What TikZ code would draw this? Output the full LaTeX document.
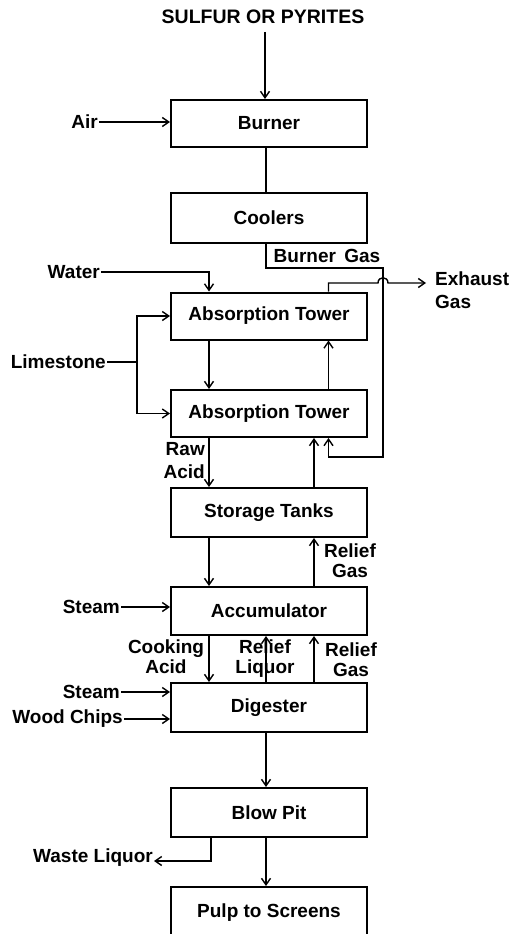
\documentclass[tikz,border=0pt]{standalone}
\usepackage{fontspec}
\setmainfont{Liberation Sans}
\usetikzlibrary{arrows.meta}
\newcommand\lblfont{\fontsize{19}{20}\selectfont\bfseries}
\newcommand\lblfontwide{\fontsize{19}{23}\selectfont\bfseries}
\newcommand\ttlfont{\fontsize{19.5}{22}\selectfont\bfseries}
\begin{document}
\begin{tikzpicture}[x=1pt,y=-1pt,
  box/.style={draw,line width=2pt,minimum width=196pt,minimum height=47pt,inner sep=0pt,font=\lblfont},
  lbl/.style={font=\lblfont,inner sep=1pt},
  conn/.style={line width=1.4pt},
  arr/.style={conn,-{Straight Barb[length=6.5pt,width=9pt]}}]
\useasboundingbox (0,0) rectangle (510,934);
% boxes
\node[box] (burner) at (269,123.5) {Burner};
\node[box,minimum height=50pt] (coolers) at (269,218) {Coolers};
\node[box] (at1) at (269,316) {Absorption Tower};
\node[box] (at2) at (269,413.5) {Absorption Tower};
\node[box,minimum height=49pt] (storage) at (269,512.5) {Storage Tanks};
\node[box,minimum height=48pt] (acc) at (269,611) {Accumulator};
\node[box,minimum height=49pt] (dig) at (269,707.5) {Digester};
\node[box,minimum height=49pt] (blow) at (269,812.5) {Blow Pit};
\node[box,minimum height=52pt] (pulp) at (269,913) {Pulp to Screens};
% helper coordinates
\coordinate (xL) at (209,0);
\coordinate (xM) at (266,0);
\coordinate (xR1) at (314,0);
\coordinate (xR2) at (328.5,0);
% labels
\node[lbl,font=\ttlfont] (sulfur) at (263,17) {SULFUR OR PYRITES};
\node[lbl,anchor=east] (air) at (99,122) {Air};
\node[lbl,anchor=east] (water) at (101,272) {Water};
\node[lbl,anchor=east] (lime) at (107,362) {Limestone};
\node[lbl] (bgl) at (327,256) {Burner\ \,Gas};
\node[lbl,font=\lblfontwide,align=left,anchor=west] (exh) at (434,290) {Exhaust\\Gas};
\node[lbl,font=\lblfontwide,align=right,anchor=east] (raw) at (206,461) {Raw\\Acid};
\node[lbl,align=center] (rg1) at (350,561) {Relief\\Gas};
\node[lbl,anchor=east] (steam1) at (121,607) {Steam};
\node[lbl,align=center] (cook) at (166,657) {Cooking\\Acid};
\node[lbl,align=center] (rliq) at (265,659) {Relief\\Liquor};
\node[lbl,align=center] (rg2) at (351,660) {Relief\\Gas};
\node[lbl,anchor=east] (steam2) at (121,692) {Steam};
\node[lbl,anchor=east] (wood) at (124,719) {Wood Chips};
\node[lbl,anchor=east] (waste) at (154,858) {Waste Liquor};
% free-end coordinates
\coordinate (s0) at (265,32);
\coordinate (g1) at (266,268);
\coordinate (g2) at (383,268);
\coordinate (g3) at (383,457);
\coordinate (g4) at (328.5,457);
\coordinate (e1) at (328.5,283);
\coordinate (h1) at (378,283);
\coordinate (h2) at (388,283);
\coordinate (ex) at (426,283);
\coordinate (lj) at (137,362);
\coordinate (w1) at (211,861);
% connectors
\draw[arr] (s0) -- (s0 |- burner.north);
\draw[arr] (air.east) -- (burner.west |- air.east);
\draw[conn] (xM |- burner.south) -- (xM |- coolers.north);
\draw[arr] (xM |- coolers.south) -- (g1) -- (g2) -- (g3) -- (g4) -- (xR2 |- at2.south);
\draw[arr] (xR2 |- at1.north) -- (e1) -- (h1) .. controls (378,276) and (388,276) .. (h2) -- (ex);
\draw[arr] (water.east) -| (xL |- at1.north);
\draw[conn] (lime.east) -- (lj);
\draw[arr] (lj) |- (at1.west);
\draw[arr] (lj) |- (at2.west);
\draw[arr] (xL |- at1.south) -- (xL |- at2.north);
\draw[arr] (xR2 |- at2.north) -- (xR2 |- at1.south);
\draw[arr] (xL |- at2.south) -- (xL |- storage.north);
\draw[arr] (xR1 |- storage.north) -- (xR1 |- at2.south);
\draw[arr] (xL |- storage.south) -- (xL |- acc.north);
\draw[arr] (xR1 |- acc.north) -- (xR1 |- storage.south);
\draw[arr] (steam1.east) -- (acc.west |- steam1.east);
\draw[arr] (xL |- acc.south) -- (xL |- dig.north);
\draw[arr] (xM |- dig.north) -- (xM |- acc.south);
\draw[arr] (xR1 |- dig.north) -- (xR1 |- acc.south);
\draw[arr] (steam2.east) -- (dig.west |- steam2.east);
\draw[arr] (wood.east) -- (dig.west |- wood.east);
\draw[arr] (xM |- dig.south) -- (xM |- blow.north);
\draw[arr] (xM |- blow.south) -- (xM |- pulp.north);
\draw[arr] (w1 |- blow.south) -- (w1) -- (waste.east |- w1);
\end{tikzpicture}
\end{document}
